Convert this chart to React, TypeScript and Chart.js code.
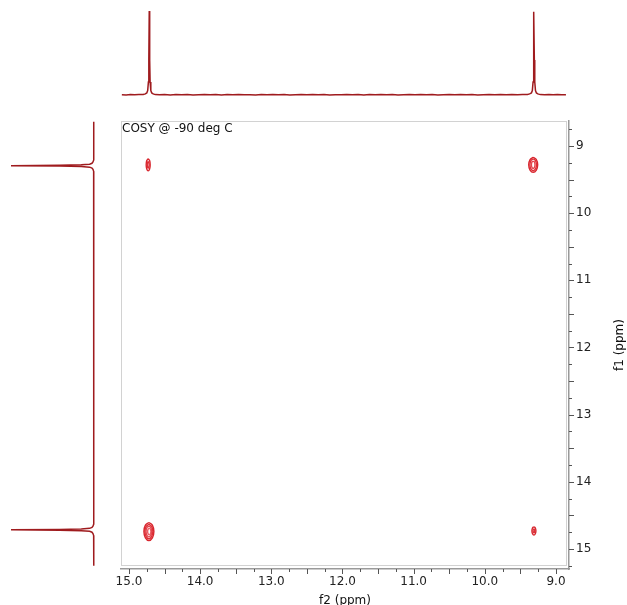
import React, { useEffect, useRef } from 'react';
import { Chart, registerables } from 'chart.js';
Chart.register(...registerables);

// ---- axis ranges (ppm) ----
const f2Range = [8.817, 15.112];
const f1Range = [8.628, 15.298];
const f2Labels = [15, 14, 13, 12, 11, 10, 9];
const f1Labels = [9, 10, 11, 12, 13, 14, 15];
const minorStep = 0.25;

// ---- 1D projection along f2 (top): [ppm, intensity] ----
const topSpectrum: number[][] = [
  [15.10,0.011],[15.04,0.008],[14.98,0.013],[14.92,0.009],[14.86,0.012],[14.80,0.013],[14.77,0.02],[14.75,0.032],
  [14.737,0.06],[14.727,0.16],[14.721,0.42],[14.715,1.0],[14.709,0.42],[14.703,0.16],[14.693,0.06],[14.68,0.032],
  [14.66,0.02],[14.63,0.012],[14.57,0.009],[14.50,0.013],[14.42,0.008],[14.34,0.012],[14.26,0.01],[14.18,0.013],
  [14.10,0.008],[14.02,0.011],[13.94,0.013],[13.86,0.009],[13.78,0.012],[13.70,0.008],[13.62,0.012],[13.54,0.01],
  [13.46,0.013],[13.38,0.009],[13.30,0.011],[13.22,0.008],[13.14,0.012],[13.06,0.01],[12.98,0.013],[12.90,0.009],
  [12.82,0.012],[12.74,0.008],[12.66,0.011],[12.58,0.013],[12.50,0.009],[12.42,0.012],[12.34,0.01],[12.26,0.013],
  [12.18,0.008],[12.10,0.011],[12.02,0.009],[11.94,0.013],[11.86,0.01],[11.78,0.012],[11.70,0.008],[11.62,0.012],
  [11.54,0.009],[11.46,0.013],[11.38,0.01],[11.30,0.012],[11.22,0.008],[11.14,0.011],[11.06,0.013],[10.98,0.009],
  [10.90,0.012],[10.82,0.01],[10.74,0.013],[10.66,0.008],[10.58,0.011],[10.50,0.012],[10.42,0.009],[10.34,0.013],
  [10.26,0.01],[10.18,0.012],[10.10,0.008],[10.02,0.011],[9.94,0.013],[9.86,0.009],[9.78,0.012],[9.70,0.01],
  [9.62,0.013],[9.54,0.009],[9.47,0.012],[9.40,0.013],[9.37,0.02],[9.345,0.032],[9.332,0.06],[9.322,0.16],
  [9.316,0.42],[9.31,0.99],[9.304,0.42],[9.298,0.16],[9.288,0.06],[9.275,0.032],[9.255,0.02],[9.22,0.012],
  [9.16,0.009],[9.10,0.013],[9.04,0.01],[8.98,0.012],[8.92,0.009],[8.86,0.011],
];

// ---- 1D projection along f1 (left): [ppm, intensity] ----
const leftSpectrum: number[][] = [
  [8.64,0.011],[8.72,0.009],[8.80,0.013],[8.88,0.01],[8.96,0.012],[9.04,0.009],[9.12,0.012],[9.17,0.01],
  [9.208,0.012],[9.238,0.02],[9.258,0.032],[9.271,0.06],[9.281,0.16],[9.287,0.42],[9.293,1.0],[9.299,0.42],
  [9.305,0.16],[9.315,0.06],[9.328,0.032],[9.348,0.02],[9.378,0.012],[9.44,0.009],[9.54,0.013],[9.64,0.01],
  [9.74,0.012],[9.84,0.008],[9.94,0.011],[10.04,0.013],[10.14,0.009],[10.24,0.012],[10.34,0.01],[10.44,0.013],
  [10.54,0.008],[10.64,0.011],[10.74,0.012],[10.84,0.009],[10.94,0.013],[11.04,0.01],[11.14,0.012],[11.24,0.008],
  [11.34,0.011],[11.44,0.013],[11.54,0.009],[11.64,0.012],[11.74,0.01],[11.84,0.013],[11.94,0.008],[12.04,0.011],
  [12.14,0.012],[12.24,0.009],[12.34,0.013],[12.44,0.01],[12.54,0.012],[12.64,0.008],[12.74,0.011],[12.84,0.013],
  [12.94,0.009],[13.04,0.012],[13.14,0.01],[13.24,0.013],[13.34,0.008],[13.44,0.011],[13.54,0.012],[13.64,0.009],
  [13.74,0.013],[13.84,0.01],[13.94,0.012],[14.04,0.008],[14.14,0.011],[14.24,0.013],[14.34,0.009],[14.44,0.012],
  [14.54,0.01],[14.60,0.012],[14.63,0.013],[14.66,0.02],[14.68,0.032],[14.693,0.06],[14.703,0.16],[14.709,0.42],
  [14.715,1.0],[14.721,0.42],[14.727,0.16],[14.737,0.06],[14.75,0.032],[14.77,0.02],[14.80,0.012],[14.86,0.009],
  [14.94,0.013],[15.02,0.01],[15.10,0.012],[15.18,0.009],[15.25,0.011],
];

// ---- 2D contours: [f2, f1] outlines, outer level first ----
const peakDiagHigh: number[][][] = [ // f2 9.32 / f1 9.28
  [[9.32,9.168],[9.276,9.202],[9.257,9.28],[9.276,9.358],[9.32,9.392],[9.364,9.358],[9.383,9.28],[9.364,9.202],[9.32,9.168]],
  [[9.32,9.192],[9.288,9.218],[9.274,9.28],[9.288,9.342],[9.32,9.368],[9.352,9.342],[9.366,9.28],[9.352,9.218],[9.32,9.192]],
  [[9.32,9.225],[9.302,9.241],[9.295,9.28],[9.302,9.319],[9.32,9.335],[9.338,9.319],[9.345,9.28],[9.338,9.241],[9.32,9.225]],
];
const peakDiagLow: number[][][] = [ // f2 14.72 / f1 14.74
  [[14.72,14.606],[14.671,14.646],[14.65,14.74],[14.671,14.834],[14.72,14.874],[14.769,14.834],[14.79,14.74],[14.769,14.646],[14.72,14.606]],
  [[14.72,14.632],[14.682,14.664],[14.664,14.74],[14.682,14.816],[14.72,14.848],[14.758,14.816],[14.776,14.74],[14.758,14.664],[14.72,14.632]],
  [[14.72,14.66],[14.692,14.684],[14.68,14.74],[14.692,14.796],[14.72,14.82],[14.748,14.796],[14.76,14.74],[14.748,14.684],[14.72,14.66]],
  [[14.715,14.69],[14.699,14.705],[14.692,14.74],[14.699,14.775],[14.715,14.79],[14.731,14.775],[14.738,14.74],[14.731,14.705],[14.715,14.69]],
];
const peakCrossA: number[][][] = [ // f2 14.73 / f1 9.28
  [[14.73,9.19],[14.71,9.217],[14.702,9.28],[14.71,9.343],[14.73,9.37],[14.75,9.343],[14.758,9.28],[14.75,9.217],[14.73,9.19]],
  [[14.73,9.23],[14.721,9.245],[14.717,9.28],[14.721,9.315],[14.73,9.33],[14.739,9.315],[14.743,9.28],[14.739,9.245],[14.73,9.23]],
];
const peakCrossB: number[][][] = [ // f2 9.31 / f1 14.73
  [[9.31,14.668],[9.29,14.687],[9.282,14.73],[9.29,14.773],[9.31,14.792],[9.33,14.773],[9.338,14.73],[9.33,14.687],[9.31,14.668]],
  [[9.31,14.7],[9.302,14.709],[9.298,14.73],[9.302,14.751],[9.31,14.76],[9.318,14.751],[9.322,14.73],[9.318,14.709],[9.31,14.7]],
];
const allPeaks = [peakDiagHigh, peakDiagLow, peakCrossA, peakCrossB];

// ---- styles ----
const levelColors = ['#d8262e', '#de3038', '#e4474e', '#ea6067'];
const specColor = '#9f1b1e';
const FONT = '"DejaVu Sans", Verdana, sans-serif';

const isInt = (v: number) => Math.abs(v - Math.round(v)) < 1e-6;
const isHalf = (v: number) => Math.abs(v * 2 - Math.round(v * 2)) < 1e-6;

const decor = {
  id: 'decor',
  afterDraw(chart: any) {
    const { ctx, chartArea: a, scales } = chart;
    ctx.save();
    // light frame
    ctx.strokeStyle = '#d2d2d2';
    ctx.lineWidth = 1;
    ctx.strokeRect(a.left + 0.5, a.top + 0.5, a.right - a.left - 3, a.bottom - a.top - 4);
    // tick marks
    ctx.strokeStyle = '#555';
    ctx.lineWidth = 1;
    const sx = scales.x, sy = scales.y;
    sx.ticks.forEach((t: any) => {
      const px = Math.round(sx.getPixelForValue(t.value)) + 0.5;
      const len = isHalf(t.value) ? 5 : 3;
      ctx.beginPath(); ctx.moveTo(px, a.bottom); ctx.lineTo(px, a.bottom + len); ctx.stroke();
    });
    sy.ticks.forEach((t: any) => {
      const py = Math.round(sy.getPixelForValue(t.value)) + 0.5;
      const len = isHalf(t.value) ? 5 : 3;
      ctx.beginPath(); ctx.moveTo(a.right, py); ctx.lineTo(a.right + len, py); ctx.stroke();
    });
    // texts
    ctx.fillStyle = '#111';
    ctx.font = '12px ' + FONT;
    ctx.textBaseline = 'middle';
    ctx.textAlign = 'left';
    ctx.fillText('COSY @ -90 deg C', a.left + 1, a.top + 8);
    ctx.textAlign = 'center';
    ctx.fillText('f2 (ppm)', (a.left + a.right) / 2, a.bottom + 32);
    ctx.translate(a.right + 51, (a.top + a.bottom) / 2);
    ctx.rotate(-Math.PI / 2);
    ctx.fillText('f1 (ppm)', 0, 0);
    ctx.restore();
  },
};

const commonOpts = {
  responsive: false,
  animation: false as const,
  events: [] as any[],
  plugins: { legend: { display: false }, tooltip: { enabled: false } },
};

export default function App() {
  const mainRef = useRef<HTMLCanvasElement>(null);
  const topRef = useRef<HTMLCanvasElement>(null);
  const leftRef = useRef<HTMLCanvasElement>(null);

  useEffect(() => {
    document.body.style.margin = '0';
    const contourSets: any[] = [];
    allPeaks.forEach((peak) => {
      peak.forEach((c, li) => {
        contourSets.push({
          data: c.map(([x, y]) => ({ x, y })),
          showLine: true,
          borderColor: levelColors[li % levelColors.length],
          borderWidth: 1.4,
          pointRadius: 0,
          tension: 0.45,
          fill: false,
        });
      });
    });

    const main = new Chart(mainRef.current!, {
      type: 'scatter',
      data: { datasets: contourSets },
      options: {
        ...commonOpts,
        layout: { padding: { left: 121, top: 121, right: 0, bottom: 0 } },
        scales: {
          x: {
            type: 'linear', position: 'bottom', reverse: true,
            min: f2Range[0], max: f2Range[1],
            afterFit: (s: any) => { s.height = 36; },
            border: { display: true, color: '#9a9a9a', width: 1.5 },
            grid: { drawOnChartArea: false, tickLength: 5, tickColor: 'rgba(0,0,0,0)' },
            ticks: {
              stepSize: minorStep, autoSkip: false, includeBounds: false, maxRotation: 0, padding: 1,
              color: '#222', font: { family: FONT, size: 12 },
              callback: (v: any) => (f2Labels.some((l) => isInt(v) && Math.abs(l - v) < 1e-6) ? Number(v).toFixed(1) : ''),
            },
          },
          y: {
            type: 'linear', position: 'right', reverse: true,
            min: f1Range[0], max: f1Range[1],
            afterFit: (s: any) => { s.width = 58; },
            border: { display: true, color: '#9a9a9a', width: 1.5 },
            grid: { drawOnChartArea: false, tickLength: 5, tickColor: 'rgba(0,0,0,0)' },
            ticks: {
              stepSize: minorStep, autoSkip: false, includeBounds: false, padding: 2,
              color: '#222', font: { family: FONT, size: 12 },
              callback: (v: any) => (f1Labels.some((l) => isInt(v) && Math.abs(l - v) < 1e-6) ? String(Math.round(v)) : ''),
            },
          },
        },
      } as any,
      plugins: [decor],
    });

    const top = new Chart(topRef.current!, {
      type: 'scatter',
      data: {
        datasets: [{
          data: topSpectrum.map(([x, y]) => ({ x, y })),
          showLine: true, borderColor: specColor, borderWidth: 1.5, pointRadius: 0, tension: 0,
        }],
      },
      options: {
        ...commonOpts,
        layout: { padding: { left: 121, right: 58, top: 11, bottom: 11 } },
        scales: {
          x: { type: 'linear', display: false, reverse: true, min: f2Range[0], max: f2Range[1] },
          y: { type: 'linear', display: false, min: -0.04, max: 1.0 },
        },
      } as any,
    });

    const left = new Chart(leftRef.current!, {
      type: 'scatter',
      data: {
        datasets: [{
          data: leftSpectrum.map(([y, x]) => ({ x, y })),
          showLine: true, borderColor: specColor, borderWidth: 1.5, pointRadius: 0, tension: 0,
        }],
      },
      options: {
        ...commonOpts,
        layout: { padding: { left: 11, right: 12, top: 121, bottom: 36 } },
        scales: {
          x: { type: 'linear', display: false, reverse: true, min: -0.04, max: 1.0 },
          y: { type: 'linear', display: false, reverse: true, min: f1Range[0], max: f1Range[1] },
        },
      } as any,
    });

    return () => { main.destroy(); top.destroy(); left.destroy(); };
  }, []);

  const abs: React.CSSProperties = { position: 'absolute', left: 0, top: 0, display: 'block' };
  return (
    <div style={{ position: 'fixed', left: 0, top: 0, width: 627, height: 605, overflow: 'hidden', background: '#fff' }}>
      <canvas ref={mainRef} width={627} height={605} style={abs} />
      <canvas ref={topRef} width={627} height={110} style={abs} />
      <canvas ref={leftRef} width={110} height={605} style={abs} />
    </div>
  );
}
